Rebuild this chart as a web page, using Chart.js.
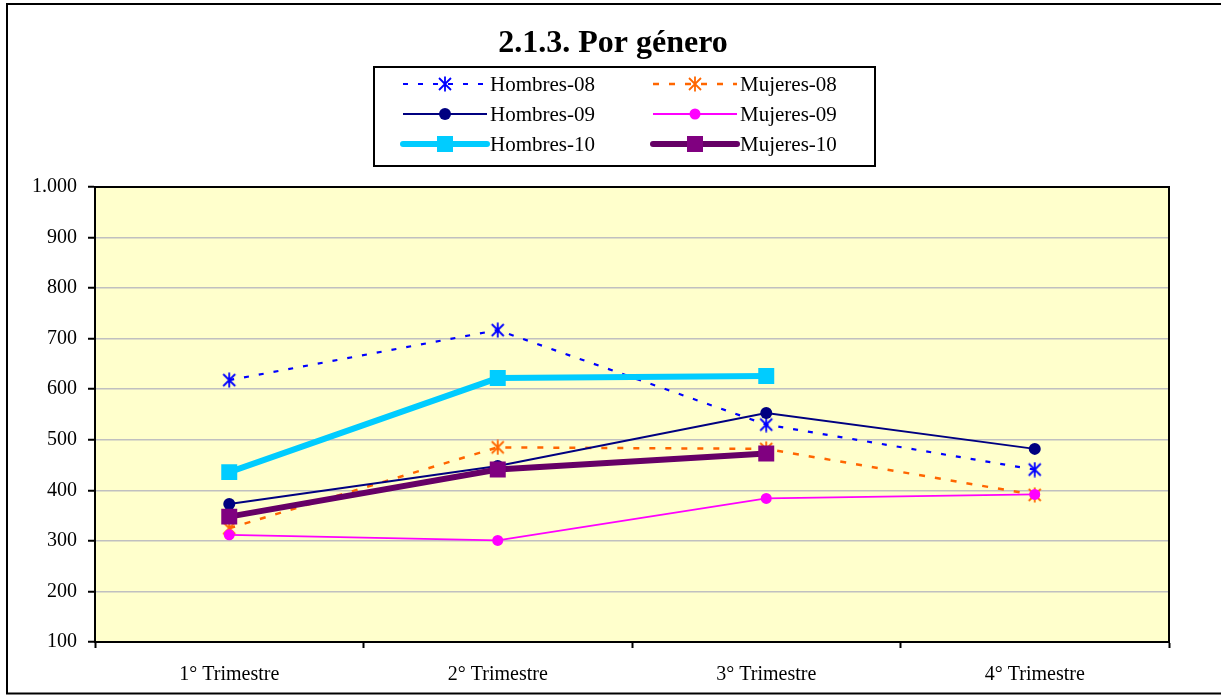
<!DOCTYPE html>
<html>
<head>
<meta charset="utf-8">
<script src="https://cdn.jsdelivr.net/npm/chart.js@4.4.1/dist/chart.umd.min.js"></script>
<style>
    html, body { margin: 0; padding: 0; background: #fff; }
    #wrap { width: 1221px; height: 695px; }
</style>
</head>
<body>
<div id="wrap"><canvas id="chart" width="1221" height="695"></canvas></div>
<script>
// Datos
const trimestres = ["1° Trimestre", "2° Trimestre", "3° Trimestre", "4° Trimestre"];
const hombres08 = [618, 717, 530, 441];
const mujeres08 = [325, 485, 482, 391];
const hombres09 = [373, 448, 553, 482];
const mujeres09 = [312, 301, 384, 392];
const hombres10 = [436, 622, 626, null];
const mujeres10 = [348, 441, 473, null];
const yTicks = [100, 200, 300, 400, 500, 600, 700, 800, 900, 1000];

const fuente = "'Liberation Serif', 'Times New Roman', serif";

// Asterisco de 6 puntas como en Excel
function asterisco(color) {
    const c = document.createElement("canvas");
    c.width = 16;
    c.height = 16;
    const g = c.getContext("2d");
    g.strokeStyle = color;
    g.lineWidth = 1.8;
    g.beginPath();
    g.moveTo(8, 0.5); g.lineTo(8, 15.5);
    g.moveTo(2, 2); g.lineTo(14, 14);
    g.moveTo(14, 2); g.lineTo(2, 14);
    g.stroke();
    return c;
}

function marca(ctx, estilo, radio, color, x, y) {
    if (estilo instanceof HTMLCanvasElement) {
        ctx.drawImage(estilo, x - estilo.width / 2, y - estilo.height / 2);
    } else if (estilo === "circle") {
        ctx.fillStyle = color;
        ctx.beginPath();
        ctx.arc(x, y, radio, 0, Math.PI * 2);
        ctx.fill();
    } else if (estilo === "rect") {
        const s = radio * Math.SQRT1_2;
        ctx.fillStyle = color;
        ctx.fillRect(x - s, y - s, 2 * s, 2 * s);
    }
}

const fondoYMarco = {
    id: "fondoYMarco",
    beforeDraw(chart) {
        const ctx = chart.ctx;
        const a = chart.chartArea;
        ctx.save();
        ctx.fillStyle = "#fff";
        ctx.fillRect(0, 0, chart.width, chart.height);
        ctx.strokeStyle = "#000";
        ctx.lineWidth = 2;
        ctx.strokeRect(7, 4, 1230, 689.5);
        ctx.fillStyle = "#FFFFCC";
        ctx.fillRect(a.left, a.top, a.right - a.left, a.bottom - a.top);
        ctx.restore();
    },
    afterDatasetsDraw(chart) {
        const ctx = chart.ctx;
        const a = chart.chartArea;
        ctx.save();
        ctx.strokeStyle = "#000";
        ctx.lineWidth = 2;
        ctx.strokeRect(a.left, a.top, a.right - a.left, a.bottom - a.top);
        ctx.restore();
    },
    afterDraw(chart) {
        const ctx = chart.ctx;
        ctx.save();
        // titulo
        ctx.fillStyle = "#000";
        ctx.font = "bold 32px " + fuente;
        ctx.textAlign = "center";
        ctx.textBaseline = "middle";
        ctx.fillText("2.1.3. Por género", 613, 44);

        // leyenda
        ctx.fillStyle = "#fff";
        ctx.fillRect(374, 67, 501, 99);
        ctx.strokeStyle = "#000";
        ctx.lineWidth = 2;
        ctx.strokeRect(374, 67, 501, 99);
        const filas = [84, 114, 144];
        const cols = [403, 653];
        ctx.font = "21px " + fuente;
        ctx.textAlign = "left";
        chart.data.datasets.forEach((ds, i) => {
            const x = cols[i % 2];
            const y = filas[Math.floor(i / 2)];
            ctx.save();
            ctx.strokeStyle = ds.borderColor;
            ctx.lineWidth = ds.borderWidth;
            ctx.lineCap = ds.borderWidth > 4 ? "round" : "butt";
            ctx.setLineDash(ds.borderDash || []);
            ctx.beginPath();
            ctx.moveTo(x, y);
            ctx.lineTo(x + 84, y);
            ctx.stroke();
            ctx.restore();
            marca(ctx, ds.pointStyle, ds.pointRadius, ds.pointBackgroundColor, x + 42, y);
            ctx.fillStyle = "#000";
            ctx.fillText(ds.label, x + 87, y + 1);
        });
        ctx.restore();
    }
};

const ctx = document.getElementById("chart").getContext("2d");

const grafico = new Chart(ctx, {
    type: "line",
    data: {
        labels: trimestres,
        datasets: [{
            label: "Hombres-08",
            data: hombres08,
            borderColor: "#0000FF",
            borderWidth: 2.2,
            borderDash: [5, 10],
            pointStyle: asterisco("#0000FF"),
            pointRadius: 7,
            pointBackgroundColor: "#0000FF",
            order: 6,
        }, {
            label: "Mujeres-08",
            data: mujeres08,
            borderColor: "#FF6600",
            borderWidth: 2.5,
            borderDash: [6, 10],
            pointStyle: asterisco("#FF6600"),
            pointRadius: 7,
            pointBackgroundColor: "#FF6600",
            order: 5,
        }, {
            label: "Hombres-09",
            data: hombres09,
            borderColor: "#000080",
            borderWidth: 2,
            pointStyle: "circle",
            pointRadius: 6,
            pointBackgroundColor: "#000080",
            pointBorderWidth: 0,
            order: 4,
        }, {
            label: "Mujeres-09",
            data: mujeres09,
            borderColor: "#FF00FF",
            borderWidth: 1.8,
            pointStyle: "circle",
            pointRadius: 5.5,
            pointBackgroundColor: "#FF00FF",
            pointBorderWidth: 0,
            order: 3,
        }, {
            label: "Hombres-10",
            data: hombres10,
            borderColor: "#00CCFF",
            borderWidth: 6,
            pointStyle: "rect",
            pointRadius: 11.3,
            pointBackgroundColor: "#00CCFF",
            pointBorderWidth: 0,
            order: 2,
        }, {
            label: "Mujeres-10",
            data: mujeres10,
            borderColor: "#660066",
            borderWidth: 6,
            pointStyle: "rect",
            pointRadius: 11.3,
            pointBackgroundColor: "#800080",
            pointBorderWidth: 0,
            order: 1,
        }],
    },
    options: {
        responsive: false,
        animation: false,
        events: [],
        layout: {
            padding: { left: 7, right: 52, top: 187, bottom: 0 },
        },
        plugins: {
            legend: { display: false },
            title: { display: false },
            tooltip: { enabled: false },
        },
        elements: {
            line: { tension: 0, fill: false },
        },
        scales: {
            x: {
                type: "category",
                offset: true,
                grid: {
                    offset: true,
                    drawOnChartArea: false,
                    drawTicks: true,
                    tickLength: 6,
                    tickColor: "#000",
                    tickWidth: 2,
                },
                border: { display: true, color: "#000", width: 2 },
                ticks: {
                    color: "#000",
                    font: { family: fuente, size: 20 },
                    padding: 15,
                    maxRotation: 0,
                },
                afterFit(scale) {
                    scale.height = 695 - 642;
                },
            },
            y: {
                min: 100,
                max: 1000,
                afterBuildTicks(scale) {
                    scale.ticks = yTicks.map((v) => ({ value: v }));
                },
                grid: {
                    color: "#C0C0C0",
                    lineWidth: 1.5,
                    drawTicks: true,
                    tickLength: 7,
                    tickColor: "#000",
                    tickWidth: 2,
                },
                border: { display: true, color: "#000", width: 2 },
                ticks: {
                    color: "#000",
                    font: { family: fuente, size: 20 },
                    padding: 11,
                    callback: (v) => v.toLocaleString("de-DE"),
                },
                afterFit(scale) {
                    scale.width = 88;
                },
            },
        },
    },
    plugins: [fondoYMarco],
});
</script>
</body>
</html>
